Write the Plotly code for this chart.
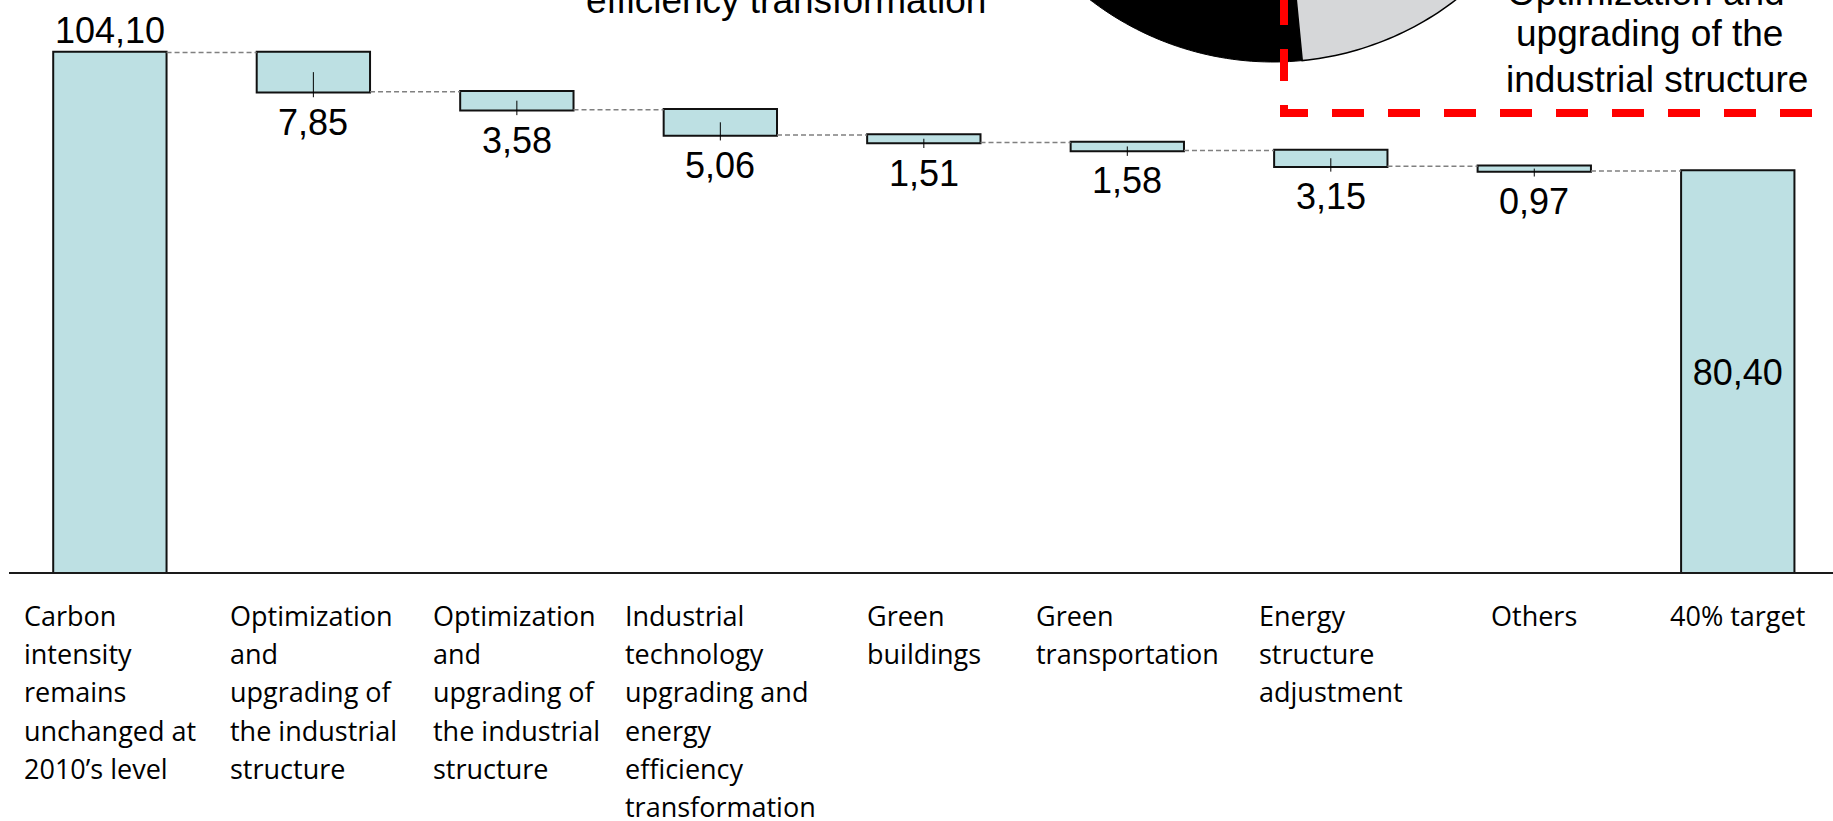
import numpy as np
import plotly.graph_objects as go

# ---------------- data ----------------
categories = [
    "Carbon<br>intensity<br>remains<br>unchanged at<br>2010’s level",
    "Optimization<br>and<br>upgrading of<br>the industrial<br>structure",
    "Optimization<br>and<br>upgrading of<br>the industrial<br>structure",
    "Industrial<br>technology<br>upgrading and<br>energy<br>efficiency<br>transformation",
    "Green<br>buildings",
    "Green<br>transportation",
    "Energy<br>structure<br>adjustment",
    "Others",
    "40% target",
]
values = [104.10, -7.85, -3.58, -5.06, -1.51, -1.58, -3.15, -0.97, 80.40]
measures = ["absolute"] + ["relative"] * 7 + ["total"]

top_center_lines = ["efficiency transformation"]
top_right_lines = ["Optimization and", "upgrading of the", "industrial structure"]

# ---------------- geometry helpers ----------------
W, H = 1833, 821
BASE = 573            # pixel row of the x axis line
YMAX = 114.6

def P(px, py):
    return px / W, (BASE - py) / BASE

FILL = "#bde0e3"
EDGE = "#111111"
LABEL_FONT = dict(family="Liberation Sans", size=36, color="black")

xs = list(range(len(categories)))
labels = [f"{abs(v):.2f}".replace(".", ",") for v in values]
n = len(values)
trace_text = [""] * (n - 1) + [labels[-1]]
textpos = ["none"] * (n - 1) + ["inside"]

fig = go.Figure()
fig.add_trace(go.Waterfall(
    x=xs, y=values, measure=measures,
    text=trace_text, textposition=textpos, insidetextanchor="middle",
    textfont=LABEL_FONT, constraintext="none", cliponaxis=False,
    decreasing=dict(marker=dict(color=FILL, line=dict(color=EDGE, width=2))),
    increasing=dict(marker=dict(color=FILL, line=dict(color=EDGE, width=2))),
    totals=dict(marker=dict(color=FILL, line=dict(color=EDGE, width=2))),
    connector=dict(mode="between", line=dict(color="#808080", width=1.5, dash="5px,3px")),
    hoverinfo="skip",
))

# cumulative levels
cum = np.cumsum(values[:-1])

# value labels: start bar above, decreasing bars below
fig.add_annotation(x=0, y=cum[0], xref="x", yref="y", xanchor="center", yanchor="bottom",
                   yshift=-0.5, text=labels[0], showarrow=False, font=LABEL_FONT)
for i in range(1, n - 1):
    fig.add_annotation(x=i, y=cum[i], xref="x", yref="y", xanchor="center", yanchor="top",
                       yshift=-8, text=labels[i], showarrow=False, font=LABEL_FONT)

# small leader ticks inside the decreasing bars
tx, ty = [], []
for i in range(1, n - 1):
    top, bot = cum[i - 1], cum[i]
    tx += [i, i, None]
    ty += [(top + bot) / 2, bot - 1.1, None]
fig.add_trace(go.Scatter(x=tx, y=ty, mode="lines", line=dict(color="black", width=1),
                         hoverinfo="skip", showlegend=False, cliponaxis=False))

# category labels
for i, cat in enumerate(categories):
    txt = "<br>".join(f"<span style='font-size:27px'>{ln}</span>" for ln in cat.split("<br>"))
    fig.add_annotation(x=i, xref="x", y=0, yref="paper", yanchor="top", xanchor="center",
                       align="left", yshift=-22, text=txt, showarrow=False,
                       font=dict(family="Open Sans", size=29.4, color="black"))

# decorative texts at top (cropped slide)
LS = 0.3465 * 37
for k, ln in enumerate(top_center_lines):
    x, y = P(786, 13 - LS)
    fig.add_annotation(x=x, y=y, xref="paper", yref="paper", xanchor="center", yanchor="middle",
                       text=ln, showarrow=False, font=dict(family="Liberation Sans", size=37, color="black"))
tr_x = [1646, 1649, 1657]
tr_base = [5, 46.5, 92]
for k, ln in enumerate(top_right_lines):
    x, y = P(tr_x[k], tr_base[k] - LS)
    fig.add_annotation(x=x, y=y, xref="paper", yref="paper", xanchor="center", yanchor="middle",
                       text=ln, showarrow=False, font=dict(family="Liberation Sans", size=37, color="black"))

# pie fragment
cx, cy, r = 1273, -238, 300
theta_b = np.degrees(np.arctan2(296, 29))

def sector(a0, a1, npts=80):
    a = np.radians(np.linspace(a0, a1, npts))
    pts = [P(cx, cy)] + [P(cx + r * np.cos(t), cy + r * np.sin(t)) for t in a]
    return "M " + " L ".join(f"{x:.6f},{y:.6f}" for x, y in pts) + " Z"

fig.add_shape(type="path", xref="paper", yref="paper", path=sector(theta_b, 180),
              fillcolor="black", line=dict(color="black", width=1))
fig.add_shape(type="path", xref="paper", yref="paper", path=sector(0, theta_b),
              fillcolor="#d6d7d9", line=dict(color="black", width=1.5))

# red dashed frame
p0, p1, p2 = P(1284, -7), P(1284, 113), P(1850, 113)
fig.add_shape(type="path", xref="paper", yref="paper",
              path=f"M {p0[0]},{p0[1]} L {p1[0]},{p1[1]} L {p2[0]},{p2[1]}",
              line=dict(color="#ff0000", width=8, dash="32px,24px"))

# axis line
fig.add_shape(type="line", xref="paper", yref="paper", x0=9 / W, x1=1, y0=0, y1=0,
              line=dict(color="#1a1a1a", width=2))

fig.update_layout(
    width=W, height=H,
    margin=dict(l=0, r=0, t=0, b=H - BASE),
    paper_bgcolor="white", plot_bgcolor="white", showlegend=False,
    waterfallgap=0.443,
    xaxis=dict(range=[-0.54, 8.468], showticklabels=False, showgrid=False, zeroline=False,
               showline=False, ticks=""),
    yaxis=dict(range=[0, YMAX], visible=False, fixedrange=True),
)

fig.write_html("out.html")
